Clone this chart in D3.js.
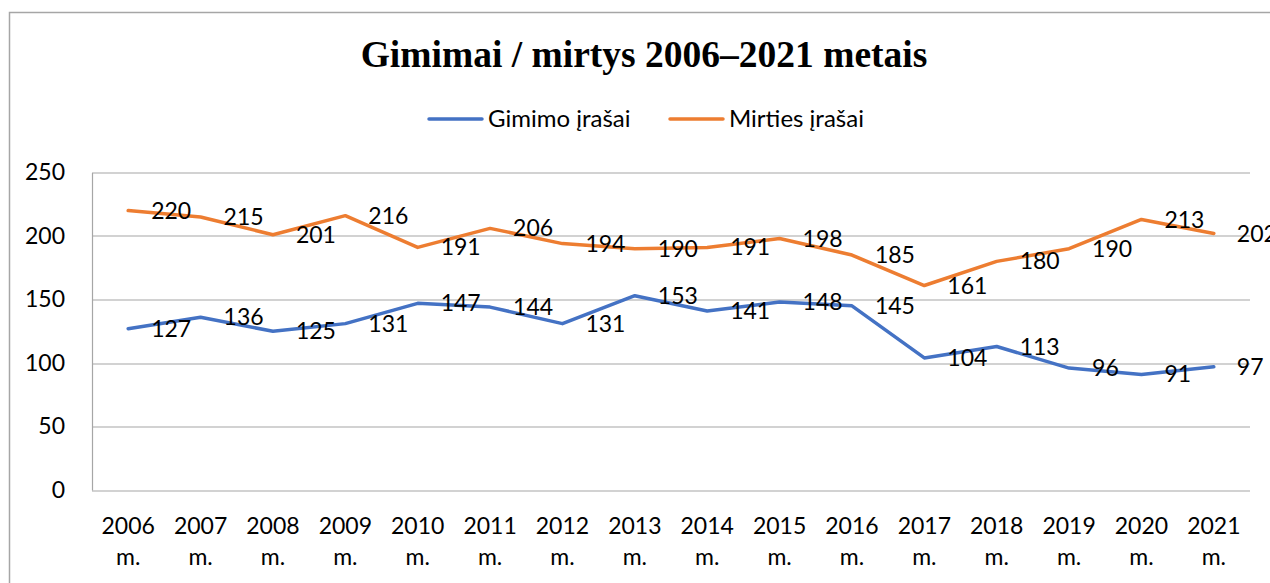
<!DOCTYPE html>
<html>
<head>
<meta charset="utf-8">
<script src="https://cdn.jsdelivr.net/npm/d3@7"></script>
<style>
  body { margin: 0; background: #fff; overflow: hidden; }
  text { font-family: Lato, "Open Sans", sans-serif; fill: #000; }
</style>
</head>
<body>
<div id="chart"></div>
<script>
// data
var years = ['2006', '2007', '2008', '2009', '2010', '2011', '2012', '2013',
    '2014', '2015', '2016', '2017', '2018', '2019', '2020', '2021'];
var births = [127, 136, 125, 131, 147, 144, 131, 153, 141, 148, 145, 104, 113, 96, 91, 97];
var deaths = [220, 215, 201, 216, 191, 206, 194, 190, 191, 198, 185, 161, 180, 190, 213, 202];
var yTicks = [0, 50, 100, 150, 200, 250];
var seriesNames = ['Gimimo įrašai', 'Mirties įrašai'];
var colors = ['#4472C4', '#ED7D31'];

var width = 1270;
var height = 583;
var fontSize = '23px';

var margin = { top: 172.5, right: 20, bottom: 93, left: 92 };
var chartWidth = 1250 - margin.left;
var chartHeight = 490 - margin.top;

var root = d3.select('#chart').append('svg')
    .attr('width', width)
    .attr('height', height);

// outer chart border (only top and left visible in frame)
root.append('path')
    .attr('d', 'M9.5,' + (height + 5) + 'V12.5H' + (width + 5))
    .attr('fill', 'none')
    .attr('stroke', '#A6A6A6')
    .attr('stroke-width', 1.5);

// title
root.append('text')
    .attr('x', 644)
    .attr('y', 67)
    .attr('text-anchor', 'middle')
    .style('font-family', '"Liberation Serif", "Times New Roman", serif')
    .style('font-weight', 'bold')
    .style('font-size', '37.5px')
    .text('Gimimai / mirtys 2006–2021 metais');

// legend
var legend = root.append('g');
var legendX = [429, 670];
seriesNames.forEach(function (name, i) {
    var g = legend.append('g').attr('transform', `translate(${legendX[i]}, 119)`);
    g.append('line')
        .attr('x1', 0).attr('x2', 53)
        .attr('y1', 0).attr('y2', 0)
        .attr('stroke', colors[i])
        .attr('stroke-width', 3.5)
        .attr('stroke-linecap', 'round');
    g.append('text')
        .attr('x', 59)
        .attr('y', 0)
        .attr('dy', '0.35em')
        .style('font-size', '24px')
        .text(name);
});

var svg = root.append('g')
    .attr('transform', `translate(${margin.left}, ${margin.top})`);

var xScale = d3.scaleBand()
    .domain(years)
    .range([0, chartWidth]);

var yScale = d3.scaleLinear()
    .domain([0, 250])
    .range([chartHeight, 0]);

// gridlines
svg.append('g')
    .selectAll('line')
    .data(yTicks)
    .enter()
    .append('line')
    .attr('x1', 0)
    .attr('x2', chartWidth)
    .attr('y1', d => Math.round(yScale(d)) + 0.5)
    .attr('y2', d => Math.round(yScale(d)) + 0.5)
    .attr('stroke', '#A6A6A6')
    .attr('stroke-width', 1.2);

// y axis
var yAxis = d3.axisLeft(yScale).tickValues(yTicks).tickSize(0).tickPadding(27);
var yAxis_g = svg.append('g').call(yAxis);
yAxis_g.select('.domain')
    .attr('stroke', '#A6A6A6')
    .attr('stroke-width', 1.2);
yAxis_g.selectAll('text')
    .style('font-size', fontSize)
    .style('font-family', 'Lato, "Open Sans", sans-serif')
    .attr('fill', '#000');

// x axis labels (two lines)
var xLabels = svg.append('g')
    .attr('transform', `translate(0, ${chartHeight})`);
var xl = xLabels.selectAll('text')
    .data(years)
    .enter()
    .append('text')
    .attr('x', d => xScale(d) + xScale.bandwidth() / 2)
    .attr('y', 43.5)
    .attr('text-anchor', 'middle')
    .style('font-size', fontSize);
xl.append('tspan')
    .attr('x', d => xScale(d) + xScale.bandwidth() / 2)
    .text(d => d);
xl.append('tspan')
    .attr('x', d => xScale(d) + xScale.bandwidth() / 2)
    .attr('dy', 31)
    .text('m.');

// lines
var lineGen = d3.line()
    .x((d, i) => xScale(years[i]) + xScale.bandwidth() / 2)
    .y(d => yScale(d));

[births, deaths].forEach(function (series, i) {
    svg.append('path')
        .datum(series)
        .attr('d', lineGen)
        .attr('fill', 'none')
        .attr('stroke', colors[i])
        .attr('stroke-width', 3.5)
        .attr('stroke-linejoin', 'round')
        .attr('stroke-linecap', 'round');
});

// data labels to the right of points
[births, deaths].forEach(function (series) {
    svg.append('g')
        .selectAll('text')
        .data(series)
        .enter()
        .append('text')
        .attr('x', (d, i) => xScale(years[i]) + xScale.bandwidth() / 2 + 23)
        .attr('y', d => yScale(d))
        .attr('dy', '0.35em')
        .style('font-size', fontSize)
        .text(d => d);
});
</script>
</body>
</html>
